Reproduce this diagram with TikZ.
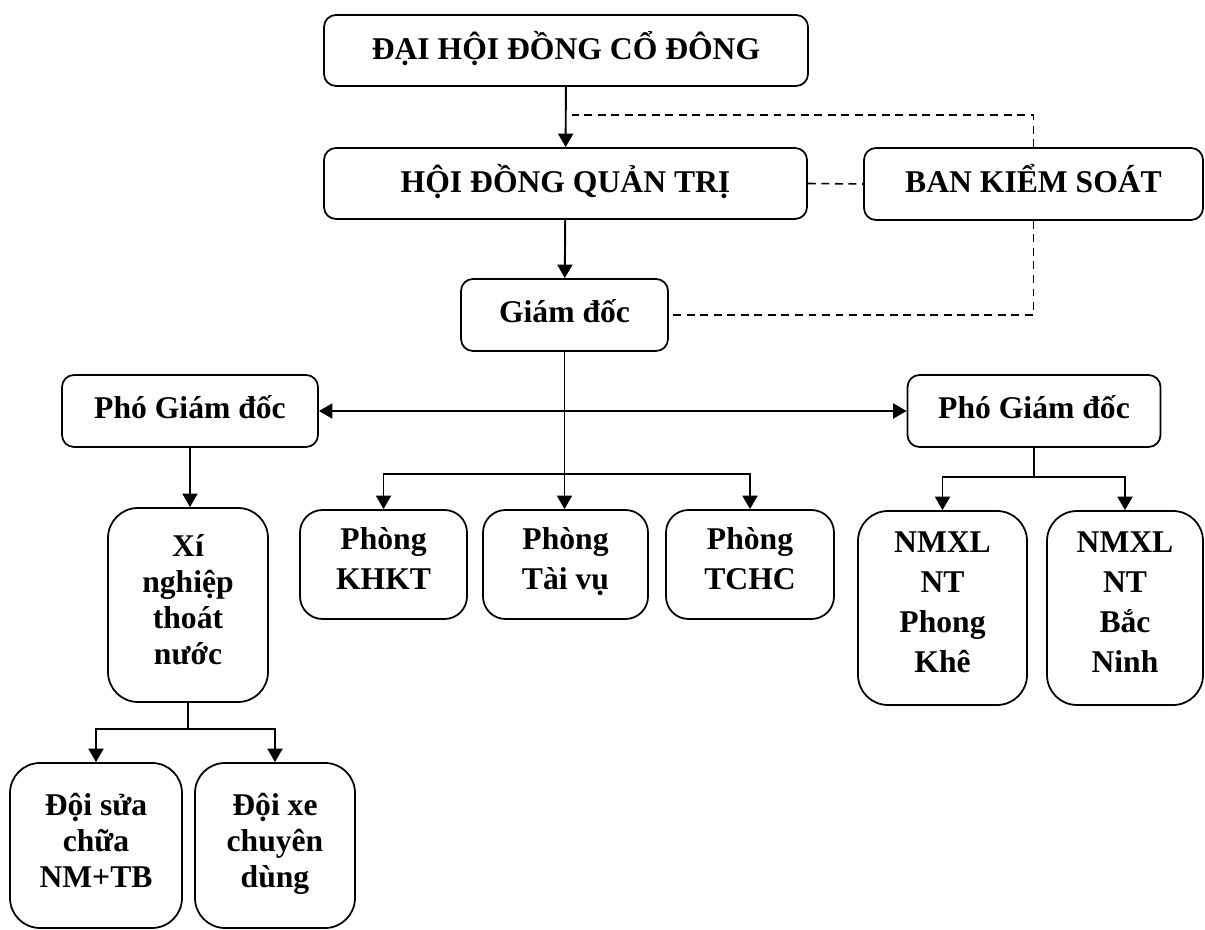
\documentclass[tikz,border=0pt]{standalone}
\usepackage{fontspec}
\setmainfont{Liberation Serif}
\usetikzlibrary{arrows.meta,positioning}

\begin{document}
\begin{tikzpicture}[
  box/.style={rectangle, rounded corners=0.24cm, draw=black, line width=1pt, align=center, font=\bfseries\fontsize{18}{20.5}\selectfont, execute at begin node=\strut, execute at end node=\strut},
  tallbox/.style={box, rounded corners=0.6cm},
  widebox/.style={tallbox, font=\bfseries\fontsize{18}{22.7}\selectfont},
  roombox/.style={box, rounded corners=0.45cm, minimum height=2.18cm, font=\bfseries\fontsize{18}{22.7}\selectfont},
  arr/.style={-{Triangle[width=0.3cm,length=0.27cm]}, line width=1.1pt},
  link/.style={line width=1.1pt},
  dashlink/.style={line width=0.9pt, dash pattern=on 4.5pt off 3.2pt}
]
  \useasboundingbox (0,0) rectangle (24.1,-18.6);

  % Top blocks
  \node (dhdcd) [box, minimum width=9.68cm, minimum height=1.42cm] at (11.32,-1.01) {ĐẠI HỘI ĐỒNG CỔ ĐÔNG};
  \node (hdqt) [box, minimum width=9.66cm, minimum height=1.42cm] at (11.31,-3.67) {HỘI ĐỒNG QUẢN TRỊ};
  \node (bks) [box, minimum width=6.78cm, minimum height=1.44cm] at (20.67,-3.68) {BAN KIỂM SOÁT};
  \node (gd) [box, minimum width=4.14cm, minimum height=1.44cm] at (11.29,-6.30) {Giám đốc};

  % Deputy directors
  \node (pgdl) [box, minimum width=5.12cm, minimum height=1.44cm] at (3.80,-8.22) {Phó Giám đốc};
  \node (pgdr) [box, minimum width=5.06cm, minimum height=1.44cm] at (20.68,-8.22) {Phó Giám đốc};

  % Departments
  \node (khkt) [roombox, minimum width=3.34cm] at (7.67,-11.29) {Phòng\\KHKT};
  \node (taivu) [roombox, minimum width=3.30cm] at (11.31,-11.29) {Phòng\\Tài vụ};
  \node (tchc) [roombox, minimum width=3.36cm] at (15.00,-11.29) {Phòng\\TCHC};

  % Plants and units
  \node (xn) [tallbox, minimum width=3.20cm, minimum height=3.88cm] at (3.76,-12.10) {Xí\\nghiệp\\thoát\\nước};
  \node (nmpk) [widebox, minimum width=3.38cm, minimum height=3.88cm] at (18.85,-12.16) {NMXL\\NT\\Phong\\Khê};
  \node (nmbn) [widebox, minimum width=3.12cm, minimum height=3.88cm] at (22.50,-12.16) {NMXL\\NT\\Bắc\\Ninh};
  \node (doisc) [tallbox, minimum width=3.44cm, minimum height=3.30cm] at (1.92,-16.91) {Đội sửa\\chữa\\NM+TB};
  \node (doixe) [tallbox, minimum width=3.20cm, minimum height=3.30cm] at (5.50,-16.91) {Đội xe\\chuyên\\dùng};

  % Main arrows
  \draw [arr] (dhdcd) -- (hdqt);
  \draw [arr] (hdqt) -- (gd);
  \draw [arr] (gd.south) -- (gd.south |- taivu.north);
  \draw [{Triangle[width=0.3cm,length=0.27cm]}-{Triangle[width=0.3cm,length=0.27cm]}, line width=1.1pt] (pgdl.east) -- (pgdr.west);

  % Branches to departments
  \coordinate (bj) at (gd.south |- 0,-9.48);
  \draw [arr] (bj) -| (khkt.north);
  \draw [arr] (bj) -| (tchc.north);

  % Left deputy branch
  \draw [arr] (pgdl.south) -- (pgdl.south |- xn.north);
  \draw [link] (xn.south) -- ++(0,-0.52) coordinate (bx);
  \draw [arr] (bx) -| (doisc.north);
  \draw [arr] (bx) -| (doixe.north);

  % Right deputy branch
  \draw [link] (pgdr.south) -- ++(0,-0.58) coordinate (br);
  \draw [arr] (br) -| (nmpk.north);
  \draw [arr] (br) -| (nmbn.north);

  % Supervisory board links
  \coordinate (dtop) at (11.44,-2.30);
  \draw [dashlink] (bks.north) |- (dtop);
  \draw [dashlink] (hdqt.east) -- (bks.west);
  \draw [dashlink] (bks.south) |- (gd.east);
\end{tikzpicture}
\end{document}
